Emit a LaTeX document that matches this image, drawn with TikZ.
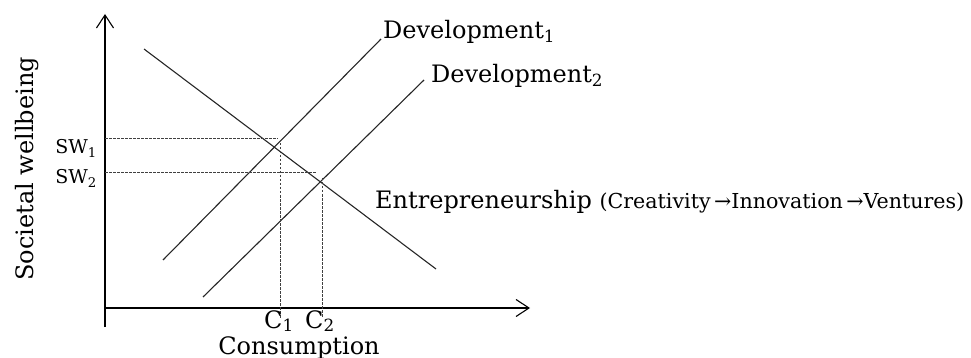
\documentclass[tikz,border=0pt]{standalone}
\usepackage{fontspec}
\setmainfont{DejaVu Serif}
\usetikzlibrary{arrows.meta, positioning}

\tikzset{
  curve/.style={line width=1.1pt, black!85},
  guide/.style={line width=1pt, black!75, dash pattern=on 2.5pt off 1.5pt},
  axis/.style={line width=1.1pt, -{Straight Barb[length=13pt, width=17pt]}},
  lbl/.style={inner sep=0pt, font=\fontsize{24}{28}\selectfont},
  small lbl/.style={inner sep=0pt, font=\fontsize{19}{22}\selectfont},
}

\begin{document}
\begin{tikzpicture}[x=1pt, y=-1pt]
    \useasboundingbox (0,0) rectangle (971,358);

    % Axes
    \coordinate (o) at (105,308);
    \coordinate (ytop) at (105,14);
    \coordinate (ybot) at (105,327);
    \coordinate (xend) at (530,308);
    \draw[axis] (ybot) -- (ytop);
    \draw[axis] (o) -- (xend);

    % Curves
    \coordinate (e1) at (144,49);
    \coordinate (e2) at (436,269);
    \coordinate (d1a) at (163,260);
    \coordinate (d1b) at (381,39);
    \coordinate (d2a) at (203,297);
    \coordinate (d2b) at (424,80);
    \draw[curve] (e1) -- (e2);
    \draw[curve] (d1a) -- (d1b);
    \draw[curve] (d2a) -- (d2b);

    % Dashed guides
    \coordinate (h1a) at (105,139);
    \coordinate (h1b) at (278,139);
    \coordinate (v1a) at (280,143);
    \coordinate (v1b) at (280,318);
    \coordinate (h2a) at (105,173);
    \coordinate (h2b) at (316,173);
    \coordinate (v2a) at (322,178);
    \coordinate (v2b) at (322,318);
    \draw[guide] (h1a) -- (h1b);
    \draw[guide] (v1a) -- (v1b);
    \draw[guide] (h2a) -- (h2b);
    \draw[guide] (v2a) -- (v2b);

    % Labels
    \node[lbl, anchor=base west] (dev1) at (383,39) {Development\textsubscript{1}};
    \node[lbl, anchor=base west] (dev2) at (431,83) {Development\textsubscript{2}};
    \node[lbl, anchor=base west] (entr) at (375,208)
        {Entrepreneurship {\fontsize{20.6}{24}\selectfont(Creativity\,→Innovation\,→Ventures)}};
    \node[small lbl, anchor=base east] (sw1) at (97,154) {SW\textsubscript{1}};
    \node[small lbl, anchor=base east] (sw2) at (97,184) {SW\textsubscript{2}};
    \node[lbl, anchor=base] (c1) at (279,328) {C\textsubscript{1}};
    \node[lbl, anchor=base] (c2) at (320,328) {C\textsubscript{2}};
    \node[lbl, anchor=base] (cons) at (299,354) {Consumption};
    \node[lbl, anchor=base, rotate=90] (sowb) at (33,169) {Societal wellbeing};
\end{tikzpicture}
\end{document}
